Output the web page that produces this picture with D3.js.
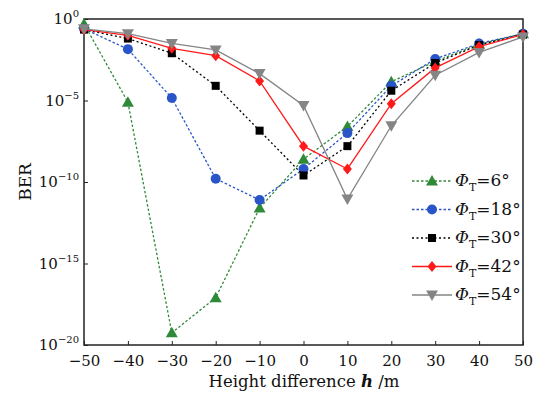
<!DOCTYPE html>
<html><head><meta charset="utf-8">
<script src="https://cdn.jsdelivr.net/npm/d3@7"></script>
<style>body{margin:0;background:#fff}svg{display:block}text{font-family:"DejaVu Serif",serif}</style>
</head><body><svg id="c" width="542" height="395"></svg>
<script>
const heights = [-50,-40,-30,-20,-10,0,10,20,30,40,50];
const seriesNames = ["6","18","30","42","54"];
// log10(BER) values
const ber6  = [-0.3,-5.1,-19.25,-17.1,-11.6,-8.6,-6.6,-3.85,-2.6,-1.55,-0.9];
const ber18 = [-0.6,-1.85,-4.85,-9.8,-11.1,-9.2,-7.0,-4.1,-2.45,-1.5,-0.9];
const ber30 = [-0.65,-1.2,-2.1,-4.1,-6.85,-9.6,-7.8,-4.4,-2.7,-1.6,-0.95];
const ber42 = [-0.65,-1.0,-1.8,-2.25,-3.8,-7.8,-9.2,-5.2,-3.0,-1.7,-0.95];
const ber54 = [-0.6,-0.9,-1.5,-1.9,-3.35,-5.3,-11.05,-6.55,-3.45,-2.05,-1.1];
const xTicks = [-50,-40,-30,-20,-10,0,10,20,30,40,50];
const yTickExps = [0,-5,-10,-15,-20];
const colors = ["#2f8a38","#2a55c8","#000000","#ff1a1a","#858585"];
const dashes = ["2.5,2","2.5,2","2,2.5",null,null];
const markers = ["triangleUp","circle","square","diamond","triangleDown"];
const allSeries = [ber6,ber18,ber30,ber42,ber54];

const svg = d3.select("#c");
const M = {l:84,r:523,t:19,b:345};
const x = d3.scaleLinear().domain([-50,50]).range([M.l,M.r]);
const y = d3.scaleLog().domain([1e-20,1]).range([M.b,M.t]);

// frame
svg.append("rect").attr("x",M.l).attr("y",M.t).attr("width",M.r-M.l).attr("height",M.b-M.t)
  .attr("fill","none").attr("stroke","#222").attr("stroke-width",1.5);

// x axis
const xa = svg.append("g").attr("transform",`translate(0,${M.b})`)
  .call(d3.axisBottom(x).tickValues(xTicks).tickSizeInner(-4).tickSizeOuter(0).tickPadding(10)
  .tickFormat(d=>d<0?"\u2212"+Math.abs(d):d));
xa.select(".domain").remove();
xa.selectAll("line").attr("stroke","#222");
xa.selectAll("text").attr("font-size",15).attr("fill","#111").attr("font-family","DejaVu Serif");

// y axis
const ya = svg.append("g").attr("transform",`translate(${M.l},0)`)
  .call(d3.axisLeft(y).tickValues(yTickExps.map(e=>Math.pow(10,e))).tickSizeInner(-4).tickSizeOuter(0).tickFormat(""));
ya.select(".domain").remove();
ya.selectAll("line").attr("stroke","#222");
yTickExps.forEach(e=>{
  const t = svg.append("text").attr("x",M.l-5).attr("y",y(Math.pow(10,e))+5)
    .attr("text-anchor","end").attr("font-size",15).attr("fill","#111");
  t.append("tspan").text("10");
  t.append("tspan").attr("dy",-7).attr("font-size",10).text(e===0?"0":"\u2212"+Math.abs(e));
});

// titles
svg.append("text").attr("transform",`translate(31,182) rotate(-90)`).attr("text-anchor","middle")
  .attr("font-size",17).attr("fill","#111").text("BER");
const xt = svg.append("text").attr("x",304).attr("y",387).attr("text-anchor","middle").attr("font-size",16.5).attr("fill","#111");
xt.append("tspan").text("Height difference ");
xt.append("tspan").attr("font-style","italic").attr("font-weight","bold").text("h");
xt.append("tspan").text(" /m");

function drawMarker(g,type,cx,cy,color){
  if(type==="circle") g.append("circle").attr("cx",cx).attr("cy",cy).attr("r",5).attr("fill",color);
  else if(type==="square") g.append("rect").attr("x",cx-4).attr("y",cy-4).attr("width",8).attr("height",8).attr("fill",color);
  else if(type==="diamond") g.append("path").attr("d",`M${cx},${cy-5.5}L${cx+4.5},${cy}L${cx},${cy+5.5}L${cx-4.5},${cy}Z`).attr("fill",color);
  else if(type==="triangleUp") g.append("path").attr("d",`M${cx},${cy-6}L${cx+6},${cy+4.5}L${cx-6},${cy+4.5}Z`).attr("fill",color);
  else g.append("path").attr("d",`M${cx},${cy+6}L${cx+6},${cy-4.5}L${cx-6},${cy-4.5}Z`).attr("fill",color);
}

const line = d3.line().x(d=>x(d[0])).y(d=>y(Math.pow(10,d[1])));
allSeries.forEach((s,i)=>{
  const pts = heights.map((h,j)=>[h,s[j]]);
  const g = svg.append("g");
  g.append("path").attr("d",line(pts)).attr("fill","none").attr("stroke",colors[i])
    .attr("stroke-width",1.3).attr("stroke-dasharray",dashes[i]);
  pts.forEach(p=>drawMarker(g,markers[i],x(p[0]),y(Math.pow(10,p[1])),colors[i]));
});

// legend
const lg = svg.append("g");
seriesNames.forEach((n,i)=>{
  const yy = 181 + i*28.5;
  lg.append("line").attr("x1",412).attr("x2",452).attr("y1",yy).attr("y2",yy)
    .attr("stroke",colors[i]).attr("stroke-width",1.3).attr("stroke-dasharray",dashes[i]);
  drawMarker(lg,markers[i],432,yy,colors[i]);
  const t = lg.append("text").attr("x",455).attr("y",yy+5).attr("font-size",17).attr("fill","#111");
  t.append("tspan").attr("font-style","italic").text("\u03A6");
  t.append("tspan").attr("font-size",11).attr("dy",5).text("T");
  t.append("tspan").attr("dy",-5).text("="+n+"\u00B0");
});
</script></body></html>
